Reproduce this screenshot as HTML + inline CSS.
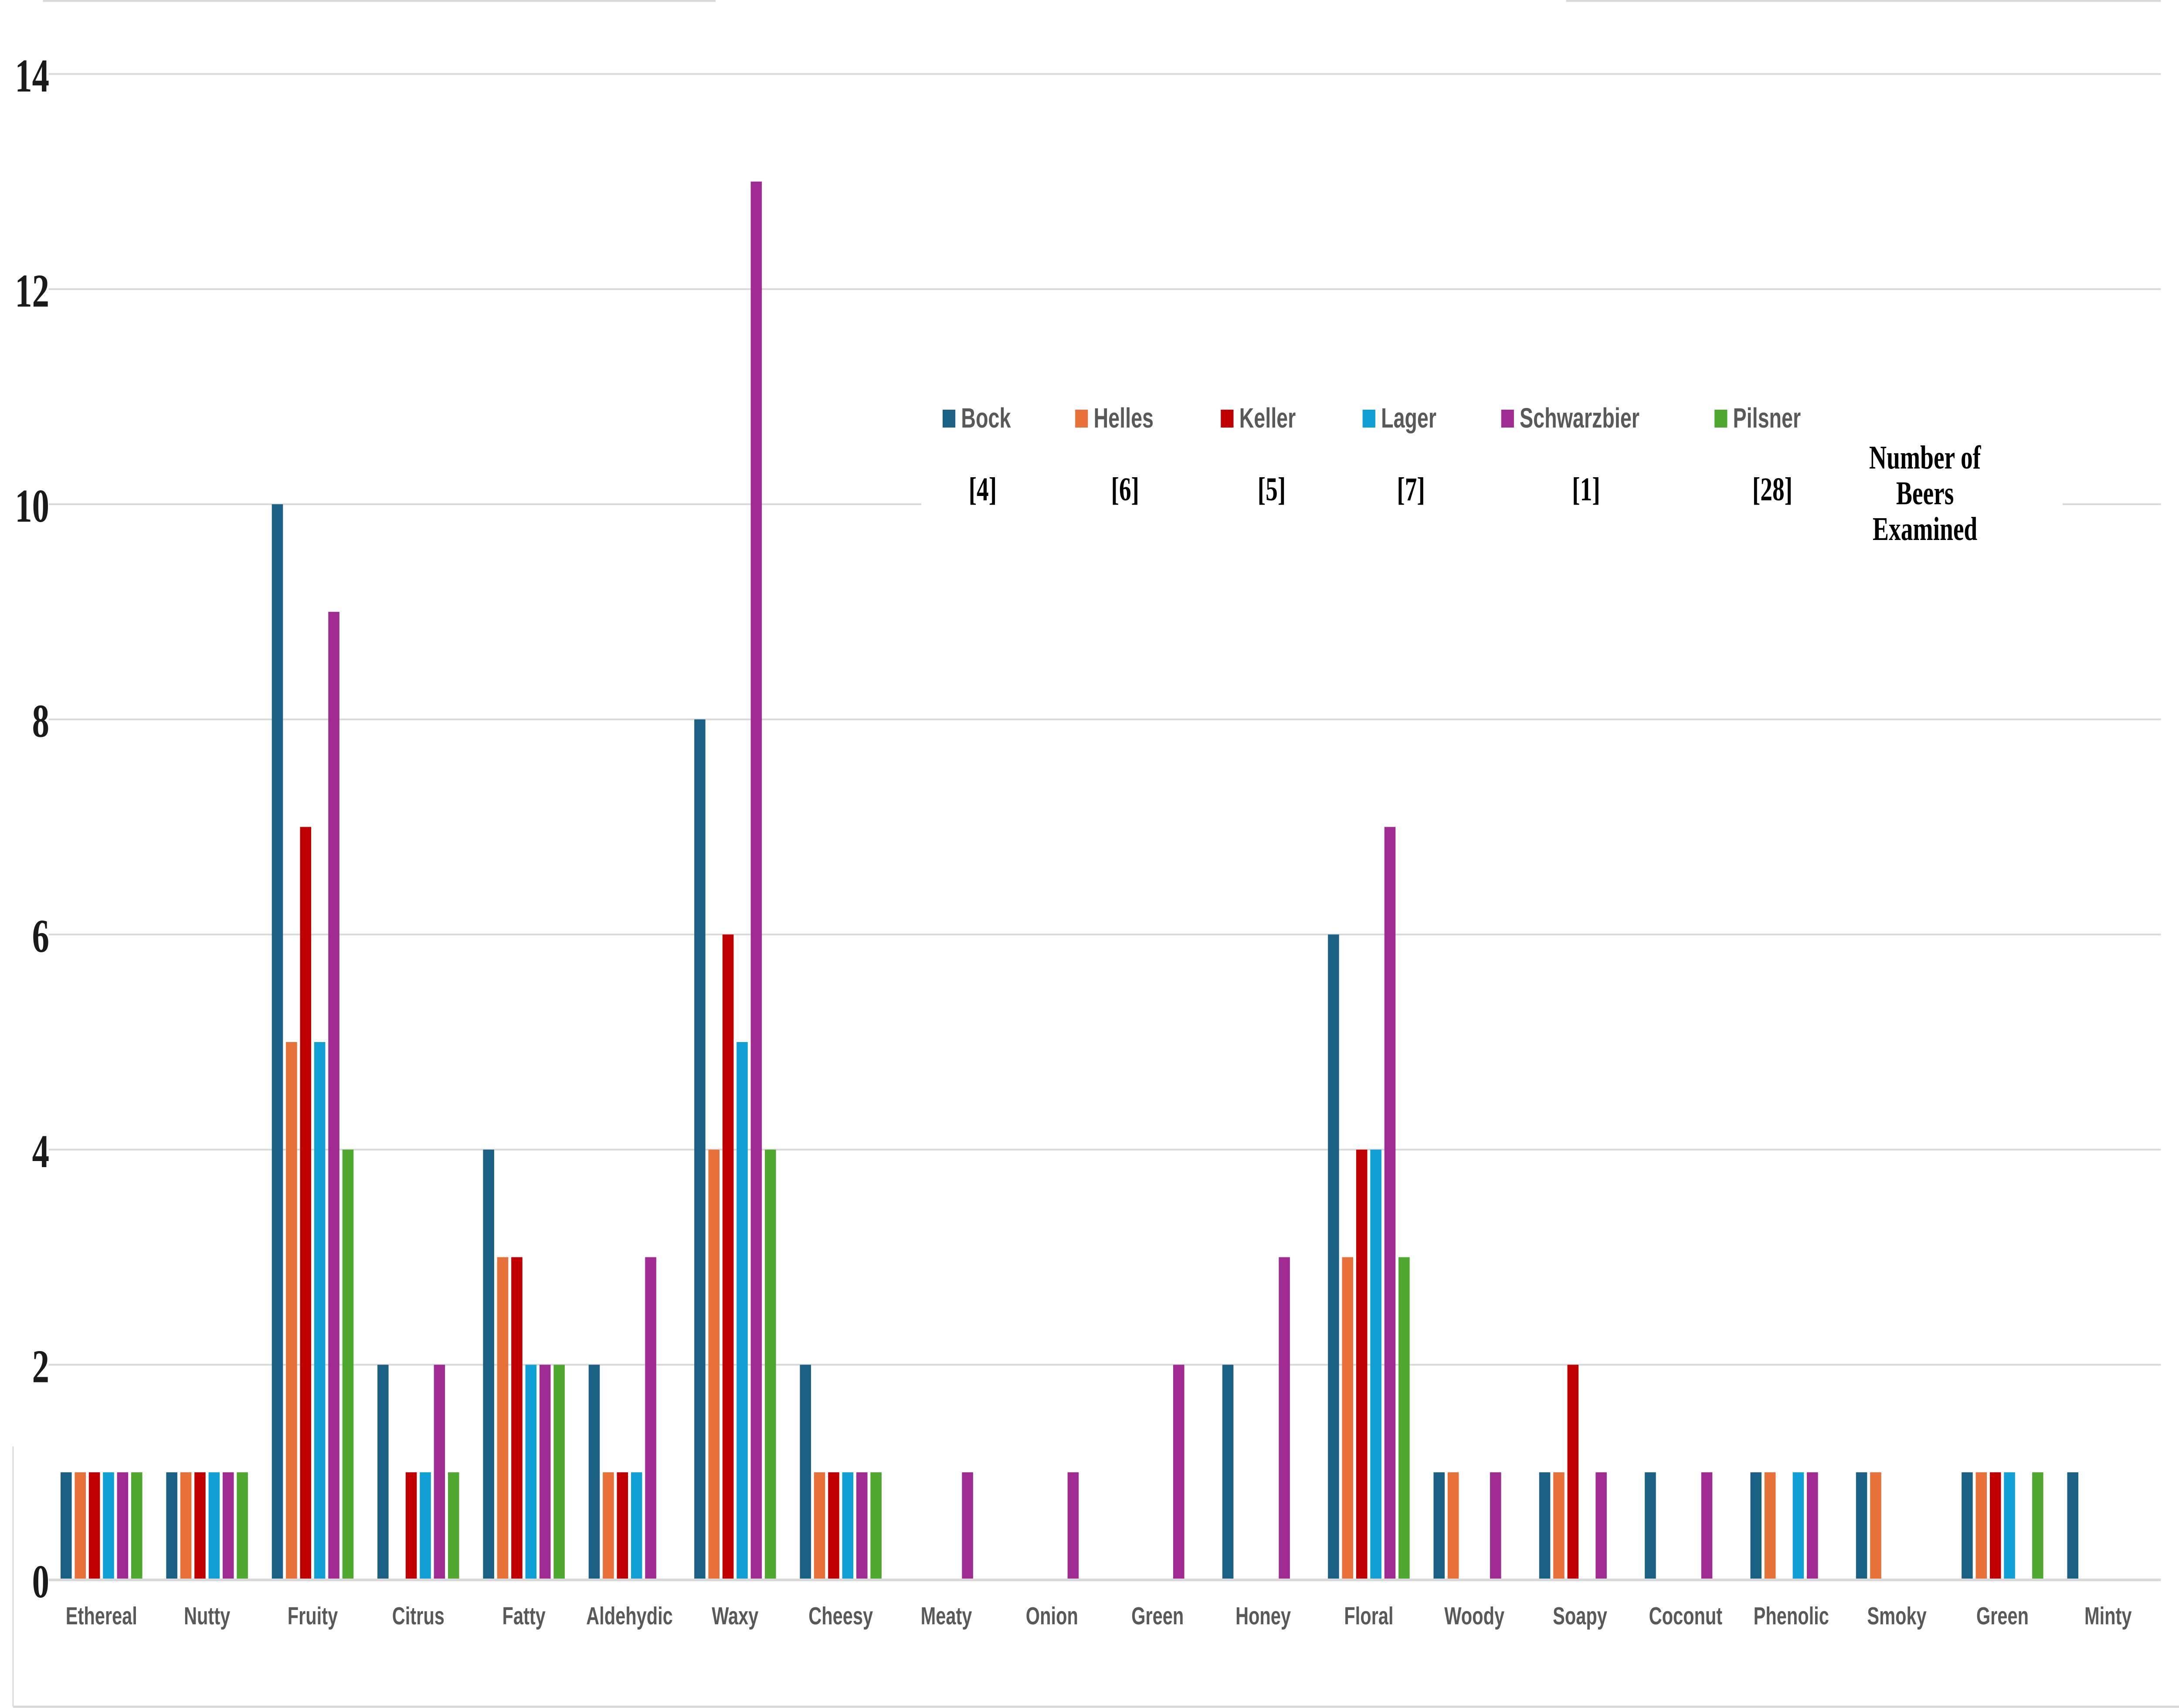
<!DOCTYPE html>
<html><head><meta charset="utf-8"><style>
html,body{margin:0;padding:0;background:#fff;width:100%;height:100%;overflow:hidden;}
svg{display:block;width:100vw;height:100vh;}
</style></head><body>
<svg id="chart" viewBox="0 0 6854 3919" preserveAspectRatio="none" xmlns="http://www.w3.org/2000/svg">
<rect x="0" y="0" width="6854" height="3919" fill="#fff"/>
<line x1="135" y1="2" x2="2251" y2="2" stroke="#d9d9d9" stroke-width="5"/>
<line x1="4926" y1="2" x2="6797" y2="2" stroke="#d9d9d9" stroke-width="5"/>
<line x1="41" y1="3319" x2="41" y2="3916" stroke="#d9d9d9" stroke-width="4"/>
<line x1="41" y1="3916" x2="6854" y2="3916" stroke="#d9d9d9" stroke-width="5"/>
<g id="grid"></g>
<g id="yticks"></g>
<rect x="2898" y="880" width="3590" height="420" fill="#fff"/>
<g id="bars"></g>
<line x1="153" y1="3625" x2="6797" y2="3625" stroke="#d9d9d9" stroke-width="6"/>
<g id="xlabels"></g>
<g id="legend"></g>
<text x="6055" y="1075" text-anchor="middle" font-family="Liberation Serif, serif" font-weight="bold" font-size="76" fill="#000"><tspan x="6055" dy="0">Number of</tspan><tspan x="6055" dy="82">Beers</tspan><tspan x="6055" dy="82">Examined</tspan></text>
</svg>
<script>
const categories = ["Ethereal","Nutty","Fruity","Citrus","Fatty","Aldehydic","Waxy","Cheesy","Meaty","Onion","Green","Honey","Floral","Woody","Soapy","Coconut","Phenolic","Smoky","Green","Minty"];
const seriesNames = ["Bock","Helles","Keller","Lager","Schwarzbier","Pilsner"];
const beerCounts = ["[4]","[6]","[5]","[7]","[1]","[28]"];
const bock =        [1,1,10,2,4,2,8,2,0,0,0,2,6,1,1,1,1,1,1,1];
const helles =      [1,1,5,0,3,1,4,1,0,0,0,0,3,1,1,0,1,1,1,0];
const keller =      [1,1,7,1,3,1,6,1,0,0,0,0,4,0,2,0,0,0,1,0];
const lager =       [1,1,5,1,2,1,5,1,0,0,0,0,4,0,0,0,1,0,1,0];
const schwarzbier = [1,1,9,2,2,3,13,1,1,1,2,3,7,1,1,1,1,0,0,0];
const pilsner =     [1,1,4,1,2,0,4,1,0,0,0,0,3,0,0,0,0,0,1,0];
const yTicks = [0,2,4,6,8,10,12,14];

const series = [bock,helles,keller,lager,schwarzbier,pilsner];
const colors = ["#1a6185","#e8713a","#c00000","#10a0d6","#a02b93","#4ea72e"];
const NS = "http://www.w3.org/2000/svg";
const plotL = 153, plotR = 6797, y0 = 3625, unit = 246.8;
const yScale = v => y0 - v * unit;
const band = (plotR - plotL) / categories.length;
const xCenter = i => plotL + band * (i + 0.5);
const pitch = 44.4, barW = 35;

function mk(tag, attrs, parent) {
  const el = document.createElementNS(NS, tag);
  for (const k in attrs) el.setAttribute(k, attrs[k]);
  parent.appendChild(el);
  return el;
}
const grid = document.getElementById('grid');
const yt = document.getElementById('yticks');
yTicks.forEach(t => {
  if (t > 0) {
    const l = mk('line', {x1: plotL, x2: plotR, y1: yScale(t), y2: yScale(t), stroke: '#d9d9d9', 'stroke-width': 4}, grid);
    
    
  }
  const tx = mk('text', {x: 155, y: yScale(t) + 40, 'text-anchor': 'end', 'font-family': 'Liberation Serif, serif', 'font-weight': 'bold', 'font-size': 108, fill: '#1a1a1a'}, yt);
  tx.textContent = t;
  
  
});
const bars = document.getElementById('bars');
categories.forEach((c, i) => {
  const start = xCenter(i) - (pitch * 5 + barW) / 2;
  series.forEach((s, j) => {
    const v = s[i];
    if (v <= 0) return;
    const r = mk('rect', {x: start + j * pitch, y: yScale(v), width: barW, height: y0 - yScale(v), fill: colors[j]}, bars);
    
    
  });
});
const xl = document.getElementById('xlabels');
categories.forEach((c, i) => {
  const t = mk('text', {x: xCenter(i), y: 3727, 'text-anchor': 'middle', 'font-family': 'Liberation Sans, sans-serif', 'font-weight': 'bold', 'font-size': 57, fill: '#595959'}, xl);
  t.textContent = c;
  
  
});
const lg = document.getElementById('legend');
const legX = [2965, 3382, 3840, 4286, 4722, 5393];
const cntX = [3091, 3539, 4000, 4438, 4989, 5575];
seriesNames.forEach((n, j) => {
  const sq = mk('rect', {x: legX[j], y: 940, width: 40, height: 41, fill: colors[j]}, lg);
  
  
  const t = mk('text', {x: legX[j] + 58, y: 981, 'font-family': 'Liberation Sans, sans-serif', 'font-weight': 'bold', 'font-size': 64, fill: '#595959'}, lg);
  t.textContent = n;
  
  
  const b = mk('text', {x: cntX[j], y: 1148, 'text-anchor': 'middle', 'font-family': 'Liberation Serif, serif', 'font-weight': 'bold', 'font-size': 76, fill: '#000'}, lg);
  b.textContent = beerCounts[j];
  
  
});
</script>
</body></html>
